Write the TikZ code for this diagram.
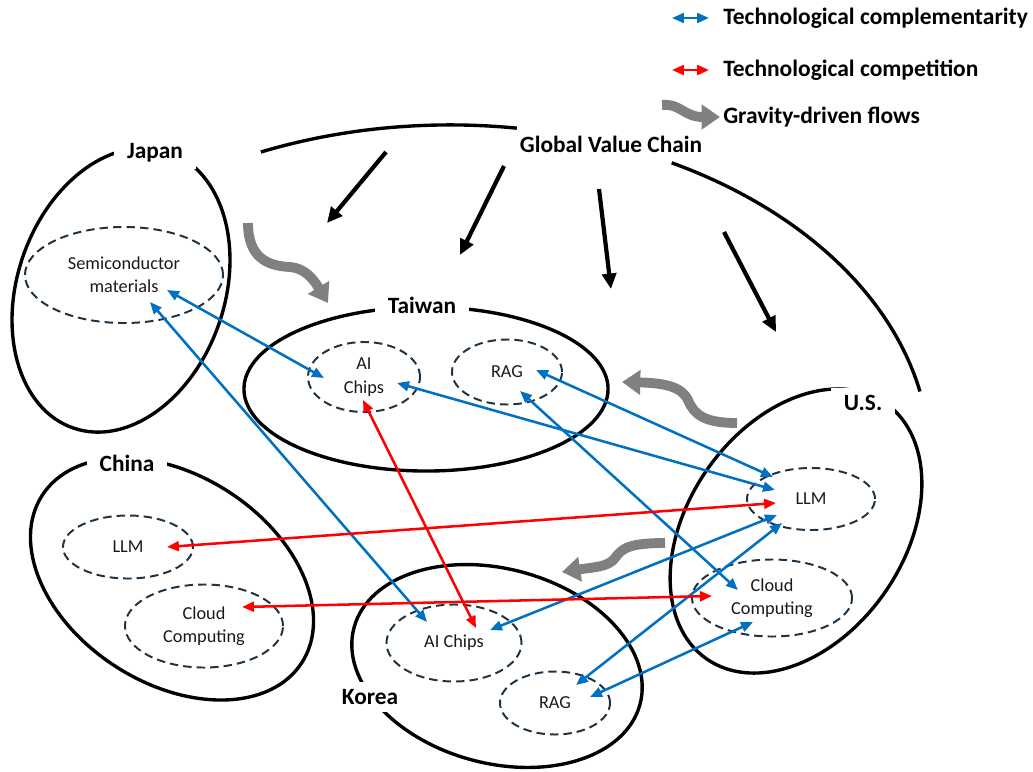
\documentclass[tikz,border=0pt]{standalone}
\usepackage{fontspec}
\setmainfont{Carlito}
\usetikzlibrary{arrows.meta,shapes.geometric}
\definecolor{linkblue}{RGB}{0,112,192}
\definecolor{linkred}{RGB}{255,0,0}
\definecolor{unitline}{RGB}{30,50,65}
\definecolor{flowgray}{RGB}{128,128,128}
\begin{document}
\begin{tikzpicture}[x=0.025cm, y=0.025cm,
  region/.style={draw=black, line width=2.4pt},
  regionlabel/.style={font=\fontsize{16.6}{19}\selectfont\bfseries, fill=white, inner xsep=9pt, inner ysep=5pt},
  unit/.style={ellipse, draw=unitline, line width=1.4pt, dash pattern=on 6pt off 3.6pt,
    inner sep=0pt, align=center, font=\fontsize{13}{16.5}\selectfont, text=black!90},
  comp/.style={draw=linkblue, line width=1.8pt,
    {Triangle[length=8.5pt,width=7pt]}-{Triangle[length=8.5pt,width=7pt]}},
  rival/.style={comp, draw=linkred},
  gvc/.style={draw=black, line width=3pt, -{Triangle[length=11pt,width=10pt]}},
  flow/.style={draw=flowgray, line width=7pt, -{Triangle[length=13pt,width=17pt]}},
  legendtext/.style={font=\fontsize{16.7}{19}\selectfont\bfseries, anchor=west, inner sep=0pt}
]
\useasboundingbox (0,0) rectangle (1033,-771);

% ---------- global value chain outline ----------
\draw[region] (450,-460) ++(113.2:12cm and 8.375cm)
  arc[start angle=113.2, end angle=82, x radius=12cm, y radius=8.375cm];
\draw[region] (450,-460) ++(62.5:12cm and 8.375cm)
  arc[start angle=62.5, end angle=11.8, x radius=12cm, y radius=8.375cm];
\node[font=\fontsize{16.6}{19}\selectfont\bfseries] (gvcLabel) at (611,-144) {Global Value Chain};

% ---------- economies ----------
\draw[region, rotate around={70.9:(121,-290)}] (121,-290) ellipse [x radius=3.65cm, y radius=2.59cm];
\draw[region] (426,-389) ellipse [x radius=4.55cm, y radius=2.05cm];
\draw[region, rotate around={-32.8:(172,-579)}] (172,-579) ellipse [x radius=3.86cm, y radius=2.6cm];
\draw[region, rotate around={-15:(497,-666)}] (497,-666) ellipse [x radius=3.7cm, y radius=2.43cm];
\draw[region, rotate around={55:(796,-531)}] (796,-531) ellipse [x radius=3.9cm, y radius=2.7cm];

\node[regionlabel] (jpLabel) at (155,-153) {Japan};
\node[regionlabel] (twLabel) at (422,-305) {Taiwan};
\node[regionlabel] (cnLabel) at (127,-463) {China};
\node[regionlabel] (krLabel) at (370,-697) {Korea};
\node[regionlabel] (usLabel) at (863,-403) {U.S.};

% ---------- technology units ----------
\node[unit, minimum width=4.95cm, minimum height=2.4cm] (jpSemi) at (124,-275) {Semiconductor\\materials};
\node[unit, minimum width=2.8cm, minimum height=1.75cm] (twAI) at (364,-377) {AI\\Chips};
\node[unit, minimum width=2.75cm, minimum height=1.625cm] (twRAG) at (507,-372) {RAG};
\node[unit, minimum width=3.2cm, minimum height=1.55cm] (usLLM) at (811,-499) {LLM};
\node[unit, minimum width=4.0cm, minimum height=1.925cm] (usCloud) at (772,-598) {Cloud\\Computing};
\node[unit, minimum width=3.25cm, minimum height=1.575cm] (cnLLM) at (128,-547) {LLM};
\node[unit, minimum width=3.95cm, minimum height=2.075cm] (cnCloud) at (204,-626) {Cloud\\Computing};
\node[unit, minimum width=3.375cm, minimum height=1.925cm] (krAI) at (454,-643) {AI Chips};
\node[unit, minimum width=2.75cm, minimum height=1.575cm] (krRAG) at (555,-703) {RAG};

% ---------- link end points ----------
\coordinate (jpA) at (167,-290);
\coordinate (jpB) at (150,-302);
\coordinate (twAIa) at (324,-378);
\coordinate (twAIb) at (397,-383);
\coordinate (twAIc) at (363,-400);
\coordinate (twRAGa) at (536,-370);
\coordinate (twRAGb) at (520,-391);
\coordinate (usL1) at (773,-477);
\coordinate (usL2) at (775,-490);
\coordinate (usL3) at (776,-503);
\coordinate (usL4) at (777,-515);
\coordinate (usL5) at (782,-523);
\coordinate (usCa) at (738,-590);
\coordinate (usCb) at (753,-622);
\coordinate (usCc) at (712,-596);
\coordinate (cnL) at (167,-547);
\coordinate (cnC) at (242,-607);
\coordinate (krAIa) at (427,-622);
\coordinate (krAIb) at (476,-628);
\coordinate (krAIc) at (490,-630);
\coordinate (krRAGa) at (576,-685);
\coordinate (krRAGb) at (590,-697);

% complementarity links
\draw[comp] (jpA) -- (twAIa);
\draw[comp] (jpB) -- (krAIa);
\draw[comp] (twAIb) -- (usL2);
\draw[comp] (twRAGa) -- (usL1);
\draw[comp] (twRAGb) -- (usCa);
\draw[comp] (usL4) -- (krAIc);
\draw[comp] (usL5) -- (krRAGa);
\draw[comp] (usCb) -- (krRAGb);
% competition links
\draw[rival] (twAIc) -- (krAIb);
\draw[rival] (cnL) -- (usL3);
\draw[rival] (cnC) -- (usCc);

% ---------- value chain arrows ----------
\coordinate (g1s) at (386,-152); \coordinate (g1e) at (327,-223);
\coordinate (g2s) at (504,-166); \coordinate (g2e) at (460,-255);
\coordinate (g3s) at (599,-189); \coordinate (g3e) at (611,-289);
\coordinate (g4s) at (724,-232); \coordinate (g4e) at (776,-332);
\draw[gvc] (g1s) -- (g1e);
\draw[gvc] (g2s) -- (g2e);
\draw[gvc] (g3s) -- (g3e);
\draw[gvc] (g4s) -- (g4e);

% ---------- gravity-driven flows ----------
\coordinate (fAs) at (248,-223); \coordinate (fAe) at (328,-303);
\coordinate (fBs) at (737,-423); \coordinate (fBe) at (622,-382);
\coordinate (fCs) at (665,-543); \coordinate (fCe) at (562,-572);
\draw[flow] (fAs) .. controls (248,-258) and (268,-266) .. (290,-267)
  .. controls (305,-268) and (314,-280) .. (fAe);
\draw[flow] (fBs) .. controls (705,-423) and (694,-415) .. (688,-400)
  .. controls (682,-387) and (665,-383) .. (fBe);
\draw[flow] (fCs) .. controls (630,-543) and (622,-548) .. (615,-558)
  .. controls (608,-567) and (595,-567) .. (fCe);

% ---------- legend ----------
\coordinate (lgBs) at (672,-18); \coordinate (lgBe) at (709,-18);
\coordinate (lgRs) at (672,-70); \coordinate (lgRe) at (709,-70);
\coordinate (lgFs) at (662,-105); \coordinate (lgFe) at (720,-117);
\draw[comp] (lgBs) -- (lgBe);
\draw[rival] (lgRs) -- (lgRe);
\draw[flow] (lgFs) .. controls (680,-103) and (684,-117) .. (lgFe);
\node[legendtext] (lgB) at (723,-18) {Technological complementarity};
\node[legendtext] (lgR) at (723,-70) {Technological competition};
\node[legendtext] (lgF) at (723,-117) {Gravity-driven flows};
\end{tikzpicture}
\end{document}
